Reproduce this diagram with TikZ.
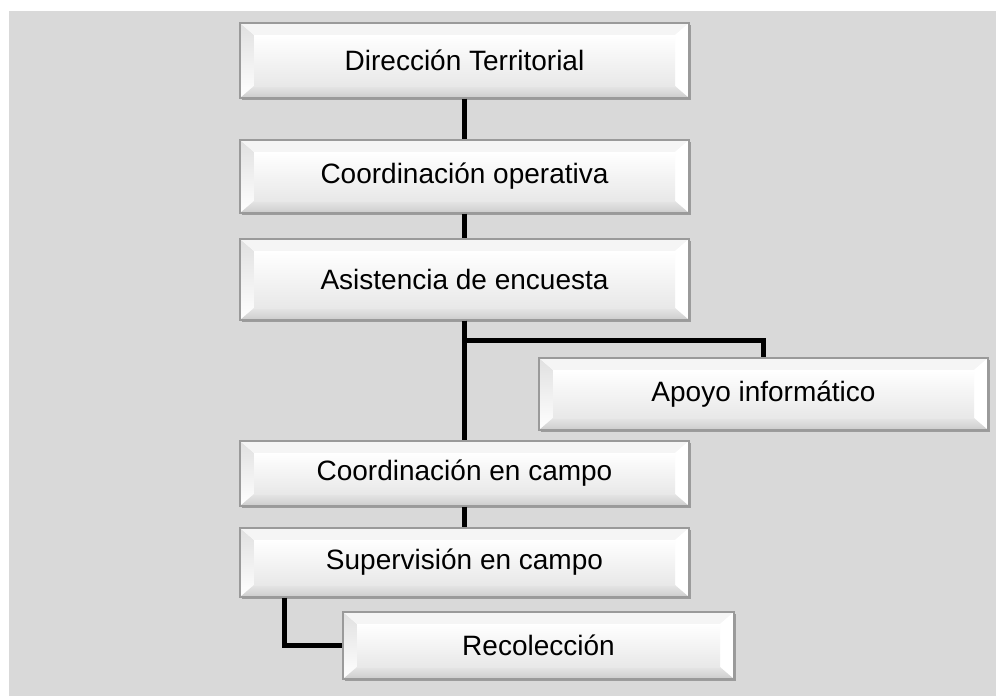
\documentclass[tikz,border=0pt]{standalone}
\usepackage{fontspec}
\setmainfont{Liberation Sans}
\usetikzlibrary{shadows}
\definecolor{bgc}{HTML}{D9D9D9}
\definecolor{rim}{HTML}{9A9A9A}
\tikzset{
  bevbox/.style={draw=rim, line width=0.8pt, fill=white, inner sep=0pt,
    font=\fontsize{21}{25}\selectfont, text=black,
    drop shadow={shadow xshift=1.2pt, shadow yshift=-1.8pt, fill=black, opacity=0.28},
    path picture={
      \coordinate (SW) at (path picture bounding box.south west);
      \coordinate (NE) at (path picture bounding box.north east);
      \coordinate (NW) at (SW |- NE);
      \coordinate (SE) at (NE |- SW);
      \shade[top color=black!12, bottom color=white]
        (SW) -- (NW) -- ([shift={(10.5pt,-9pt)}]NW) -- ([shift={(10.5pt,9pt)}]SW) -- cycle;
      \fill[black!4] (NW) -- (NE) -- ([shift={(-10.5pt,-9pt)}]NE) -- ([shift={(10.5pt,-9pt)}]NW) -- cycle;
      \fill[white] (NE) -- (SE) -- ([shift={(-10.5pt,9pt)}]SE) -- ([shift={(-10.5pt,-9pt)}]NE) -- cycle;
      \shade[top color=black!10, bottom color=black!20] (SW) -- (SE) -- ([shift={(-10.5pt,9pt)}]SE) -- ([shift={(10.5pt,9pt)}]SW) -- cycle;
      \shade[top color=white, bottom color=black!9]
        ([shift={(10.5pt,9pt)}]SW) rectangle ([shift={(-10.5pt,-9pt)}]NE);
    }},
  conn/.style={line width=4.4pt, draw=black}
}
\newcommand\obox[6]{\node[bevbox, minimum width={(#4-#2)*0.75pt}, minimum height={(#5-#3)*0.75pt}] (#1) at ({(#2+#4)/2},{(#3+#5)/2}) {#6};}
\begin{document}
\begin{tikzpicture}[x=0.75pt,y=-0.75pt]
\useasboundingbox (0,0) rectangle (996,696);
\fill[white] (0,0) rectangle (996,696);
\fill[bgc] (9,11) rectangle (996,696);
\obox{dir}{240}{23}{689}{98}{Dirección Territorial}
\obox{coo}{240}{140}{689}{213}{Coordinación operativa}
\obox{asi}{240}{239}{689}{320}{Asistencia de encuesta}
\obox{apo}{539}{358}{988}{430}{Apoyo informático}
\obox{cam}{240}{441}{689}{506}{Coordinación en campo}
\obox{sup}{240}{528}{689}{597}{Supervisión en campo}
\obox{rec}{343}{612}{734}{679}{Recolección}
\draw[conn] (dir.south) -- (coo.north);
\draw[conn] (coo.south) -- (asi.north);
\draw[conn] (asi.south) -- (cam.north);
\draw[conn] (asi.south) -- ++(0,20) -| (apo.north);
\draw[conn] (cam.south) -- (sup.north);
\draw[conn] ([xshift=33.75pt]sup.south west) |- (rec.west);
\end{tikzpicture}
\end{document}
